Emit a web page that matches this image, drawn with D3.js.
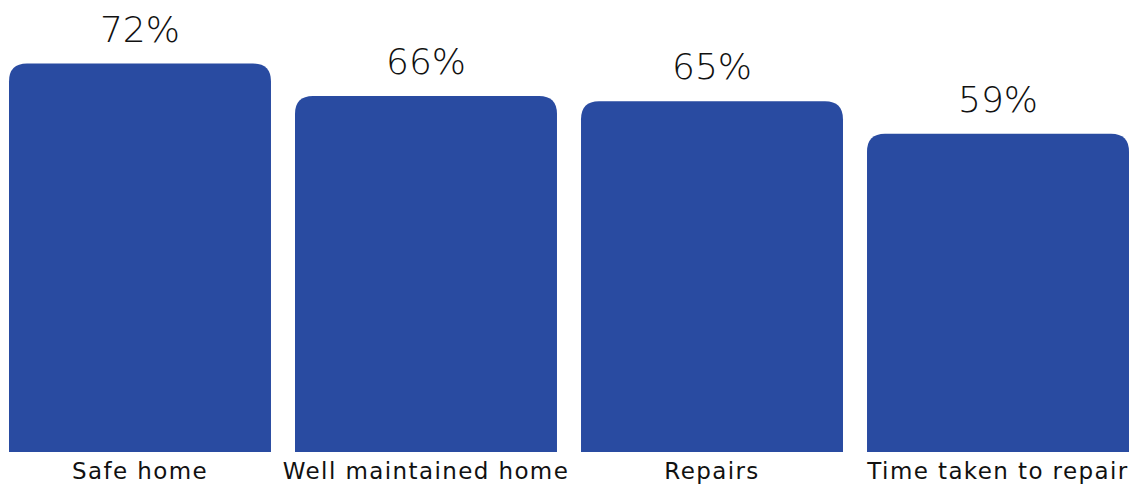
<!DOCTYPE html>
<html>
<head>
<meta charset="utf-8">
<script src="https://cdn.jsdelivr.net/npm/d3@7"></script>
<style>
  body { margin: 0; background: #fff; overflow: hidden; }
  text { font-family: "DejaVu Sans", sans-serif; fill: #111; }
</style>
</head>
<body>
<div id="chart"></div>
<script>
var categories = ["Safe home", "Well maintained home", "Repairs", "Time taken to repair"];
var values = [72, 66, 65, 59];

var width = 1133, height = 486;
var baseline = 452, radius = 18;

var x = d3.scaleBand().domain(categories).range([9, 1129]).paddingInner(0.084).paddingOuter(0);
var y = d3.scaleLinear().domain([0, 72]).range([baseline, 63.5]);

var svg = d3.select("#chart").append("svg")
            .attr("width", width)
            .attr("height", height)
            .style("display", "block");

var data = categories.map(function (c, i) { return {name: c, value: values[i]}; });

// bar with rounded top corners only
function barPath(d) {
    var x0 = x(d.name), x1 = x0 + x.bandwidth(), y0 = y(d.value), r = radius;
    return "M" + x0 + "," + baseline +
           "V" + (y0 + r) +
           "Q" + x0 + "," + y0 + " " + (x0 + r) + "," + y0 +
           "H" + (x1 - r) +
           "Q" + x1 + "," + y0 + " " + x1 + "," + (y0 + r) +
           "V" + baseline + "Z";
}

svg.selectAll("path.bar")
    .data(data)
    .enter()
    .append("path")
    .attr("class", "bar")
    .attr("d", barPath)
    .attr("fill", "#294ba1");

svg.selectAll("text.val")
    .data(data)
    .enter()
    .append("text")
    .attr("class", "val")
    .attr("x", (d) => x(d.name) + x.bandwidth() / 2)
    .attr("y", (d) => y(d.value) - 22)
    .attr("text-anchor", "middle")
    .attr("font-size", "36px")
    .attr("font-weight", 300)
    .text((d) => d.value + "%");

svg.selectAll("text.cat")
    .data(data)
    .enter()
    .append("text")
    .attr("class", "cat")
    .attr("x", (d) => x(d.name) + x.bandwidth() / 2)
    .attr("y", 479)
    .attr("text-anchor", "middle")
    .attr("font-size", "23px")
    .attr("letter-spacing", "1.4px")
    .text((d) => d.name);
</script>
</body>
</html>
